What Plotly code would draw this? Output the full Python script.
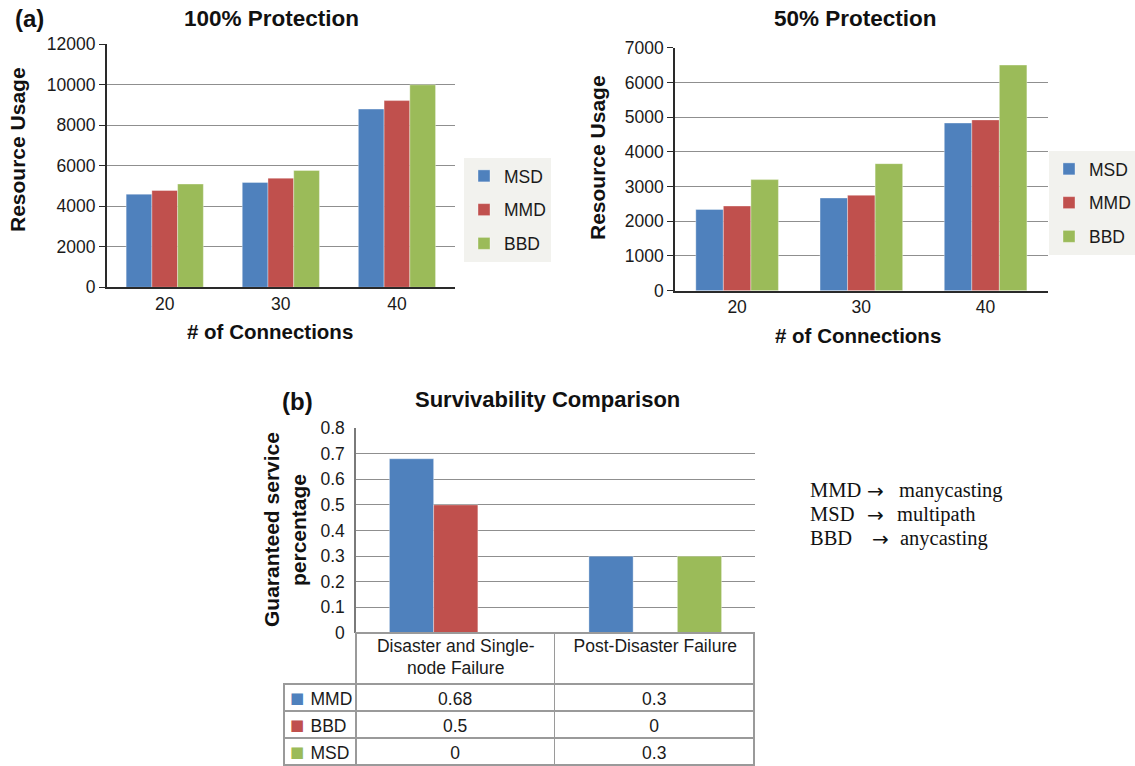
import plotly.graph_objects as go

W, H = 1135, 766

# ---------------- data ----------------
connections = ["20", "30", "40"]
series_a = ["MSD", "MMD", "BBD"]
full_protection = {
    "MSD": [4600, 5180, 8800],
    "MMD": [4780, 5390, 9220],
    "BBD": [5100, 5770, 10000],
}
half_protection = {
    "MSD": [2340, 2670, 4830],
    "MMD": [2440, 2750, 4920],
    "BBD": [3200, 3660, 6500],
}
scenarios = ["Disaster and Single-<br>node Failure", "Post-Disaster Failure"]
series_b = ["MMD", "BBD", "MSD"]
survivability = {
    "MMD": [0.68, 0.3],
    "BBD": [0.5, 0],
    "MSD": [0, 0.3],
}
colors_a = {"MSD": "#4f81bd", "MMD": "#c0504d", "BBD": "#9bbb59"}
colors_b = {"MMD": "#4f81bd", "BBD": "#c0504d", "MSD": "#9bbb59"}
notes = [("MMD", "manycasting"), ("MSD", "multipath"), ("BBD", "anycasting")]

FONT = "Liberation Sans, Arial, Helvetica, sans-serif"
SERIF = "Liberation Serif, Times New Roman, serif"
INK = "#1a1a1a"


def px_x(p):
    return p / W


def px_y(p):
    return 1 - p / H


fig = go.Figure()
edge = dict(width=0.6, color="rgba(255,255,255,0.6)")

for s in series_a:
    fig.add_trace(go.Bar(x=connections, y=full_protection[s], name=s,
                         marker=dict(color=colors_a[s], line=edge),
                         xaxis="x", yaxis="y", legend="legend", legendgroup="a" + s))
for s in series_a:
    fig.add_trace(go.Bar(x=connections, y=half_protection[s], name=s,
                         marker=dict(color=colors_a[s], line=edge),
                         xaxis="x2", yaxis="y2", legend="legend2", legendgroup="b" + s))
for s in series_b:
    fig.add_trace(go.Bar(x=scenarios, y=survivability[s], name=s,
                         marker=dict(color=colors_b[s], line=edge),
                         xaxis="x3", yaxis="y3", showlegend=False))

# data table under panel (b); its header row holds the category labels of x-axis 3
TBL_TOP, HDR_H, ROW_H = 633, 51, 27
row_labels = ["\u2002\u00a0\u00a0" + s for s in series_b]
col1 = [f"{survivability[s][0]:g}" for s in series_b]
col2 = [f"{survivability[s][1]:g}" for s in series_b]
fig.add_trace(go.Table(
    domain=dict(x=[px_x(284), px_x(755)], y=[0, px_y(TBL_TOP)]),
    columnwidth=[72, 199, 200],
    header=dict(values=["", "", ""],
                fill=dict(color="rgba(0,0,0,0)"),
                line=dict(color=["rgba(0,0,0,0)", "#9a9a9a", "#9a9a9a"], width=1.5),
                height=HDR_H, font=dict(family=FONT, size=17, color=INK)),
    cells=dict(values=[row_labels, col1, col2],
               fill=dict(color="white"),
               line=dict(color="#9a9a9a", width=1.5),
               align=["left", "center", "center"], height=ROW_H,
               font=dict(family=FONT, size=17.5, color=INK)),
))

grid = "#8f8f8f"
common_y = dict(showgrid=True, gridcolor=grid, gridwidth=1.3, showline=True,
                linecolor="#2a2a2a", linewidth=1.5, ticks="outside", ticklen=6,
                tickcolor="#2a2a2a", zeroline=False, tickformat="d", automargin=False,
                tickfont=dict(family=FONT, size=17.5, color=INK))
common_x = dict(type="category", showline=True, linecolor="#2a2a2a", linewidth=1.5,
                ticks="", showgrid=False, zeroline=False, automargin=False,
                tickfont=dict(family=FONT, size=17.5, color=INK))
legend_style = dict(xanchor="left", yanchor="top", bgcolor="#f2f2ee",
                    font=dict(family=FONT, size=17.5, color=INK),
                    tracegroupgap=8, traceorder="grouped", itemwidth=30)

fig.update_layout(
    width=W, height=H,
    margin=dict(l=0, r=0, t=0, b=0, autoexpand=False),
    paper_bgcolor="white", plot_bgcolor="white",
    barmode="group", bargap=0.335, bargroupgap=0,
    font=dict(family=FONT, color=INK),
    xaxis=dict(domain=[px_x(106.7), px_x(455)], anchor="y", **common_x),
    yaxis=dict(domain=[px_y(287.3), px_y(44.3)], anchor="x", range=[0, 12000], dtick=2000, **common_y),
    xaxis2=dict(domain=[px_x(675), px_x(1047.7)], anchor="y2", **common_x),
    yaxis2=dict(domain=[px_y(290.7), px_y(47.7)], anchor="x2", range=[0, 7000], dtick=1000, **common_y),
    xaxis3=dict(domain=[px_x(356), px_x(755)], anchor="y3", type="category", showline=False,
                showticklabels=True, ticks="", showgrid=False, zeroline=False, automargin=False,
                tickfont=dict(family=FONT, size=17.5, color=INK)),
    yaxis3=dict(domain=[px_y(633), px_y(428)], anchor="x3", range=[0, 0.8], dtick=0.1,
                showgrid=True, gridcolor=grid, gridwidth=1.3, showline=True,
                linecolor="#7a7a7a", linewidth=1.5, ticks="", zeroline=False,
                ticklabelstandoff=6, automargin=False,
                tickfont=dict(family=FONT, size=17.5, color=INK)),
    legend=dict(x=px_x(464), y=px_y(158), **legend_style),
    legend2=dict(x=px_x(1049), y=px_y(151), **legend_style),
)

ann = []


def text(x, y, t, size, bold=False, angle=0, xanchor="center", family=FONT, color="#111"):
    ann.append(dict(x=px_x(x), y=px_y(y), xref="paper", yref="paper", showarrow=False,
                    text=f"<b>{t}</b>" if bold else t, textangle=angle,
                    xanchor=xanchor, yanchor="middle",
                    font=dict(family=family, size=size, color=color)))


text(29, 19, "(a)", 24, bold=True)
text(271, 19, "100% Protection", 22.5, bold=True)
text(855, 19, "50% Protection", 22.5, bold=True)
text(18, 150, "Resource Usage", 21, bold=True, angle=-90)
text(597, 158, "Resource Usage", 21, bold=True, angle=-90)
text(270, 332, "# of Connections", 20.5, bold=True)
text(858, 335, "# of Connections", 20.5, bold=True)
text(297, 401, "(b)", 24, bold=True)
text(547, 399, "Survivability Comparison", 22, bold=True)
text(271, 530, "Guaranteed service", 21, bold=True, angle=-90)
text(298, 530, "percentage", 21, bold=True, angle=-90)

# colour keys of the data-table rows
for i, s in enumerate(series_b):
    text(297, TBL_TOP + HDR_H + ROW_H * (i + 0.5), "■", 15, family="DejaVu Sans", color=colors_b[s])

# abbreviation notes
key_x = [808, 808, 808]
arrow_x = [865, 865, 870]
word_x = [897, 895, 898]
for i, (k, v) in enumerate(notes):
    y = 490 + 24 * i
    text(key_x[i], y, k, 20.5, xanchor="left", family=SERIF)
    text(arrow_x[i], y + 1, "→", 20, xanchor="left", family="DejaVu Sans")
    text(word_x[i], y, v, 20.5, xanchor="left", family=SERIF)

fig.update_layout(annotations=ann)

fig.write_html("out.html", config={"displayModeBar": False},
               post_script="document.body.style.margin='0';")
